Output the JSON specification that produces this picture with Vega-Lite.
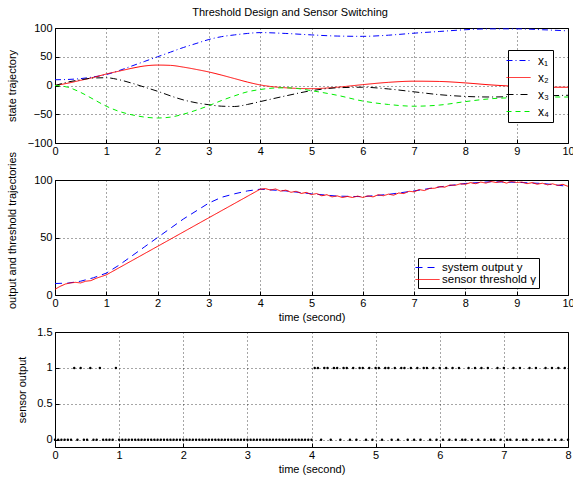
{
"$schema": "https://vega.github.io/schema/vega-lite/v6.json",
"background": "white",
"padding": {"left": 5, "top": 6, "right": 0, "bottom": 0},
"title": {"text": "Threshold Design and Sensor Switching", "fontSize": 11, "fontWeight": "normal", "font": "Liberation Sans", "color": "#000", "anchor": "middle", "offset": 4},
"spacing": 37,
"bounds": "flush",
"config": {
  "font": "Liberation Sans",
  "view": {"stroke": "#000", "strokeWidth": 1},
  "axis": {"domain": false, "grid": true, "gridColor": "#000", "gridDash": [1, 3], "gridOpacity": 0.7, "gridWidth": 1,
           "ticks": true, "tickColor": "#000", "tickSize": -4, "labelPadding": 6, "labelFontSize": 11, "labelColor": "#000",
           "labelFont": "Liberation Sans", "titleFont": "Liberation Sans", "titleFontSize": 11, "titleFontWeight": "normal", "titleColor": "#000",
           "labelFlush": false, "labelOverlap": false, "labelBound": false},
  "axisY": {"labelPadding": 7},
  "legend": {"labelFont": "Liberation Sans", "labelFontSize": 11, "labelColor": "#000"}
},
"datasets": {
  "states": [
    {"t":0,"state":"x₁","v":10},{"t":0.25,"state":"x₁","v":10.5},{"t":0.5,"state":"x₁","v":12},{"t":0.75,"state":"x₁","v":15},{"t":1,"state":"x₁","v":19},{"t":1.25,"state":"x₁","v":26},{"t":1.5,"state":"x₁","v":34},{"t":1.75,"state":"x₁","v":42},{"t":2,"state":"x₁","v":50},{"t":2.25,"state":"x₁","v":58},{"t":2.5,"state":"x₁","v":66},{"t":2.75,"state":"x₁","v":73},{"t":3,"state":"x₁","v":80},{"t":3.25,"state":"x₁","v":85},{"t":3.5,"state":"x₁","v":88},{"t":3.75,"state":"x₁","v":90.5},{"t":4,"state":"x₁","v":92},{"t":4.5,"state":"x₁","v":90.5},{"t":5,"state":"x₁","v":88},{"t":5.5,"state":"x₁","v":86},{"t":6,"state":"x₁","v":85.5},{"t":6.5,"state":"x₁","v":87.5},{"t":7,"state":"x₁","v":91},{"t":7.5,"state":"x₁","v":94},{"t":8,"state":"x₁","v":97},{"t":8.5,"state":"x₁","v":98.5},{"t":9,"state":"x₁","v":98.5},{"t":9.5,"state":"x₁","v":97},{"t":10,"state":"x₁","v":95},
    {"t":0,"state":"x₂","v":0},{"t":0.25,"state":"x₂","v":4},{"t":0.5,"state":"x₂","v":9},{"t":0.75,"state":"x₂","v":14},{"t":1,"state":"x₂","v":20},{"t":1.25,"state":"x₂","v":25},{"t":1.5,"state":"x₂","v":30},{"t":1.75,"state":"x₂","v":34},{"t":2,"state":"x₂","v":35.5},{"t":2.25,"state":"x₂","v":35},{"t":2.5,"state":"x₂","v":32},{"t":2.75,"state":"x₂","v":28},{"t":3,"state":"x₂","v":23.5},{"t":3.25,"state":"x₂","v":18},{"t":3.5,"state":"x₂","v":12},{"t":3.75,"state":"x₂","v":6},{"t":4,"state":"x₂","v":1},{"t":4.5,"state":"x₂","v":-4},{"t":5,"state":"x₂","v":-5.5},{"t":5.5,"state":"x₂","v":-3},{"t":6,"state":"x₂","v":1.5},{"t":6.5,"state":"x₂","v":5.5},{"t":7,"state":"x₂","v":7.5},{"t":7.5,"state":"x₂","v":7},{"t":8,"state":"x₂","v":4.5},{"t":8.5,"state":"x₂","v":1},{"t":9,"state":"x₂","v":-1.5},{"t":9.5,"state":"x₂","v":-3},{"t":10,"state":"x₂","v":-3},
    {"t":0,"state":"x₃","v":0},{"t":0.25,"state":"x₃","v":6},{"t":0.5,"state":"x₃","v":10},{"t":0.75,"state":"x₃","v":13},{"t":1,"state":"x₃","v":13.5},{"t":1.25,"state":"x₃","v":10},{"t":1.5,"state":"x₃","v":4},{"t":1.75,"state":"x₃","v":-3},{"t":2,"state":"x₃","v":-10},{"t":2.25,"state":"x₃","v":-18},{"t":2.5,"state":"x₃","v":-25},{"t":2.75,"state":"x₃","v":-30},{"t":3,"state":"x₃","v":-33.5},{"t":3.25,"state":"x₃","v":-36},{"t":3.5,"state":"x₃","v":-36.5},{"t":3.75,"state":"x₃","v":-33},{"t":4,"state":"x₃","v":-28},{"t":4.5,"state":"x₃","v":-18},{"t":5,"state":"x₃","v":-9},{"t":5.5,"state":"x₃","v":-4},{"t":6,"state":"x₃","v":-3},{"t":6.5,"state":"x₃","v":-6},{"t":7,"state":"x₃","v":-11},{"t":7.5,"state":"x₃","v":-16},{"t":8,"state":"x₃","v":-19},{"t":8.5,"state":"x₃","v":-20},{"t":9,"state":"x₃","v":-19},{"t":9.5,"state":"x₃","v":-18},{"t":10,"state":"x₃","v":-17},
    {"t":0,"state":"x₄","v":0},{"t":0.25,"state":"x₄","v":-3},{"t":0.5,"state":"x₄","v":-12},{"t":0.75,"state":"x₄","v":-24},{"t":1,"state":"x₄","v":-36},{"t":1.25,"state":"x₄","v":-45},{"t":1.5,"state":"x₄","v":-51},{"t":1.75,"state":"x₄","v":-55},{"t":2,"state":"x₄","v":-56.5},{"t":2.25,"state":"x₄","v":-55},{"t":2.5,"state":"x₄","v":-50},{"t":2.75,"state":"x₄","v":-43},{"t":3,"state":"x₄","v":-35},{"t":3.25,"state":"x₄","v":-26},{"t":3.5,"state":"x₄","v":-18},{"t":3.75,"state":"x₄","v":-11},{"t":4,"state":"x₄","v":-7},{"t":4.25,"state":"x₄","v":-4.5},{"t":4.5,"state":"x₄","v":-4},{"t":4.75,"state":"x₄","v":-5.5},{"t":5,"state":"x₄","v":-9},{"t":5.5,"state":"x₄","v":-17},{"t":6,"state":"x₄","v":-27},{"t":6.5,"state":"x₄","v":-33},{"t":7,"state":"x₄","v":-36},{"t":7.5,"state":"x₄","v":-34},{"t":8,"state":"x₄","v":-28},{"t":8.5,"state":"x₄","v":-23},{"t":9,"state":"x₄","v":-21},{"t":9.5,"state":"x₄","v":-20},{"t":10,"state":"x₄","v":-20}
  ],
  "outputs": [
    {"t":0,"signal":"system output y","v":10},{"t":0.25,"signal":"system output y","v":10.3},{"t":0.5,"signal":"system output y","v":12},{"t":0.75,"signal":"system output y","v":15},{"t":1,"signal":"system output y","v":19},{"t":1.25,"signal":"system output y","v":26},{"t":1.5,"signal":"system output y","v":34},{"t":1.75,"signal":"system output y","v":42},{"t":2,"signal":"system output y","v":50},{"t":2.25,"signal":"system output y","v":58},{"t":2.5,"signal":"system output y","v":66},{"t":2.75,"signal":"system output y","v":73},{"t":3,"signal":"system output y","v":80},{"t":3.25,"signal":"system output y","v":85},{"t":3.5,"signal":"system output y","v":88},{"t":3.75,"signal":"system output y","v":90.5},{"t":4,"signal":"system output y","v":92},{"t":4.5,"signal":"system output y","v":90.5},{"t":5,"signal":"system output y","v":88},{"t":5.5,"signal":"system output y","v":86},{"t":6,"signal":"system output y","v":85.5},{"t":6.5,"signal":"system output y","v":87.5},{"t":7,"signal":"system output y","v":90.5},{"t":7.5,"signal":"system output y","v":94},{"t":8,"signal":"system output y","v":97},{"t":8.5,"signal":"system output y","v":98.5},{"t":9,"signal":"system output y","v":98},{"t":9.5,"signal":"system output y","v":97},{"t":10,"signal":"system output y","v":94.5},
    {"t":0,"signal":"sensor threshold γ","v":5},{"t":0.1,"signal":"sensor threshold γ","v":7.5},{"t":0.2,"signal":"sensor threshold γ","v":9.5},{"t":0.3,"signal":"sensor threshold γ","v":10.5},{"t":0.4,"signal":"sensor threshold γ","v":11},{"t":0.5,"signal":"sensor threshold γ","v":10.5},{"t":0.6,"signal":"sensor threshold γ","v":12},{"t":0.7,"signal":"sensor threshold γ","v":12.5},{"t":0.8,"signal":"sensor threshold γ","v":14.5},{"t":0.9,"signal":"sensor threshold γ","v":16},{"t":1,"signal":"sensor threshold γ","v":17.5},{"t":2,"signal":"sensor threshold γ","v":42.3},{"t":3,"signal":"sensor threshold γ","v":67.2},{"t":4,"signal":"sensor threshold γ","v":92},
    {"t":4.1,"signal":"sensor threshold γ","v":92.5},{"t":4.2,"signal":"sensor threshold γ","v":91.3},{"t":4.3,"signal":"sensor threshold γ","v":92.2},{"t":4.4,"signal":"sensor threshold γ","v":90.3},{"t":4.5,"signal":"sensor threshold γ","v":91.2},{"t":4.6,"signal":"sensor threshold γ","v":89.3},{"t":4.7,"signal":"sensor threshold γ","v":90.2},{"t":4.8,"signal":"sensor threshold γ","v":88.3},{"t":4.9,"signal":"sensor threshold γ","v":89.2},{"t":5,"signal":"sensor threshold γ","v":87.3},{"t":5.1,"signal":"sensor threshold γ","v":88.2},{"t":5.2,"signal":"sensor threshold γ","v":86.3},{"t":5.3,"signal":"sensor threshold γ","v":87.2},{"t":5.4,"signal":"sensor threshold γ","v":85.3},{"t":5.5,"signal":"sensor threshold γ","v":86.2},{"t":5.6,"signal":"sensor threshold γ","v":84.8},{"t":5.7,"signal":"sensor threshold γ","v":85.7},{"t":5.8,"signal":"sensor threshold γ","v":84.8},{"t":5.9,"signal":"sensor threshold γ","v":86},{"t":6,"signal":"sensor threshold γ","v":84.8},{"t":6.1,"signal":"sensor threshold γ","v":86.2},{"t":6.2,"signal":"sensor threshold γ","v":85.3},{"t":6.3,"signal":"sensor threshold γ","v":87.2},{"t":6.4,"signal":"sensor threshold γ","v":86.3},{"t":6.5,"signal":"sensor threshold γ","v":87.7},{"t":6.6,"signal":"sensor threshold γ","v":86.8},{"t":6.7,"signal":"sensor threshold γ","v":88.7},{"t":6.8,"signal":"sensor threshold γ","v":88.2},{"t":6.9,"signal":"sensor threshold γ","v":90.2},{"t":7,"signal":"sensor threshold γ","v":89.7},{"t":7.1,"signal":"sensor threshold γ","v":91.7},{"t":7.2,"signal":"sensor threshold γ","v":90.8},{"t":7.3,"signal":"sensor threshold γ","v":92.7},{"t":7.4,"signal":"sensor threshold γ","v":92.8},{"t":7.5,"signal":"sensor threshold γ","v":94.2},{"t":7.6,"signal":"sensor threshold γ","v":93.8},{"t":7.7,"signal":"sensor threshold γ","v":95.7},{"t":7.8,"signal":"sensor threshold γ","v":95.3},{"t":7.9,"signal":"sensor threshold γ","v":96.7},{"t":8,"signal":"sensor threshold γ","v":96.3},{"t":8.1,"signal":"sensor threshold γ","v":97.7},{"t":8.2,"signal":"sensor threshold γ","v":96.8},{"t":8.3,"signal":"sensor threshold γ","v":98.2},{"t":8.4,"signal":"sensor threshold γ","v":97.3},{"t":8.5,"signal":"sensor threshold γ","v":98.7},{"t":8.6,"signal":"sensor threshold γ","v":97.8},{"t":8.7,"signal":"sensor threshold γ","v":98.7},{"t":8.8,"signal":"sensor threshold γ","v":97.3},{"t":8.9,"signal":"sensor threshold γ","v":98.7},{"t":9,"signal":"sensor threshold γ","v":97.8},{"t":9.1,"signal":"sensor threshold γ","v":98.2},{"t":9.2,"signal":"sensor threshold γ","v":96.8},{"t":9.3,"signal":"sensor threshold γ","v":97.7},{"t":9.4,"signal":"sensor threshold γ","v":96.3},{"t":9.5,"signal":"sensor threshold γ","v":97.2},{"t":9.6,"signal":"sensor threshold γ","v":95.8},{"t":9.7,"signal":"sensor threshold γ","v":96.7},{"t":9.8,"signal":"sensor threshold γ","v":95.3},{"t":9.9,"signal":"sensor threshold γ","v":96.2},{"t":10,"signal":"sensor threshold γ","v":94.5}
  ],
  "sensor": [
    {"t":0,"s":0},{"t":0.05,"s":0},{"t":0.1,"s":0},{"t":0.15,"s":0},{"t":0.2,"s":0},{"t":0.25,"s":0},{"t":0.3,"s":1},{"t":0.35,"s":0},{"t":0.4,"s":1},{"t":0.45,"s":0},{"t":0.5,"s":0},{"t":0.55,"s":1},{"t":0.6,"s":0},{"t":0.65,"s":0},{"t":0.7,"s":1},{"t":0.75,"s":0},{"t":0.8,"s":0},{"t":0.85,"s":0},{"t":0.9,"s":0},{"t":0.95,"s":1},
    {"t":1,"s":0},{"t":1.05,"s":0},{"t":1.1,"s":0},{"t":1.15,"s":0},{"t":1.2,"s":0},{"t":1.25,"s":0},{"t":1.3,"s":0},{"t":1.35,"s":0},{"t":1.4,"s":0},{"t":1.45,"s":0},{"t":1.5,"s":0},{"t":1.55,"s":0},{"t":1.6,"s":0},{"t":1.65,"s":0},{"t":1.7,"s":0},{"t":1.75,"s":0},{"t":1.8,"s":0},{"t":1.85,"s":0},{"t":1.9,"s":0},{"t":1.95,"s":0},
    {"t":2,"s":0},{"t":2.05,"s":0},{"t":2.1,"s":0},{"t":2.15,"s":0},{"t":2.2,"s":0},{"t":2.25,"s":0},{"t":2.3,"s":0},{"t":2.35,"s":0},{"t":2.4,"s":0},{"t":2.45,"s":0},{"t":2.5,"s":0},{"t":2.55,"s":0},{"t":2.6,"s":0},{"t":2.65,"s":0},{"t":2.7,"s":0},{"t":2.75,"s":0},{"t":2.8,"s":0},{"t":2.85,"s":0},{"t":2.9,"s":0},{"t":2.95,"s":0},
    {"t":3,"s":0},{"t":3.05,"s":0},{"t":3.1,"s":0},{"t":3.15,"s":0},{"t":3.2,"s":0},{"t":3.25,"s":0},{"t":3.3,"s":0},{"t":3.35,"s":0},{"t":3.4,"s":0},{"t":3.45,"s":0},{"t":3.5,"s":0},{"t":3.55,"s":0},{"t":3.6,"s":0},{"t":3.65,"s":0},{"t":3.7,"s":0},{"t":3.75,"s":0},{"t":3.8,"s":0},{"t":3.85,"s":0},{"t":3.9,"s":0},{"t":3.95,"s":0},{"t":4,"s":0},
    {"t":4.05,"s":1},{"t":4.1,"s":1},{"t":4.15,"s":0},{"t":4.2,"s":1},{"t":4.25,"s":1},{"t":4.3,"s":0},{"t":4.35,"s":1},{"t":4.4,"s":1},{"t":4.45,"s":0},{"t":4.5,"s":1},{"t":4.55,"s":1},{"t":4.6,"s":0},{"t":4.65,"s":1},{"t":4.7,"s":0},{"t":4.75,"s":1},{"t":4.8,"s":1},{"t":4.85,"s":0},{"t":4.9,"s":1},{"t":4.95,"s":0},
    {"t":5,"s":1},{"t":5.05,"s":1},{"t":5.1,"s":0},{"t":5.15,"s":1},{"t":5.2,"s":1},{"t":5.25,"s":0},{"t":5.3,"s":1},{"t":5.35,"s":0},{"t":5.4,"s":1},{"t":5.45,"s":1},{"t":5.5,"s":0},{"t":5.55,"s":1},{"t":5.6,"s":0},{"t":5.65,"s":1},{"t":5.7,"s":0},{"t":5.75,"s":1},{"t":5.8,"s":1},{"t":5.85,"s":0},{"t":5.9,"s":1},{"t":5.95,"s":0},
    {"t":6,"s":1},{"t":6.05,"s":0},{"t":6.1,"s":1},{"t":6.15,"s":0},{"t":6.2,"s":1},{"t":6.25,"s":0},{"t":6.3,"s":1},{"t":6.35,"s":0},{"t":6.4,"s":0},{"t":6.45,"s":1},{"t":6.5,"s":0},{"t":6.55,"s":1},{"t":6.6,"s":0},{"t":6.65,"s":1},{"t":6.7,"s":0},{"t":6.75,"s":1},{"t":6.8,"s":0},{"t":6.85,"s":0},{"t":6.9,"s":1},{"t":6.95,"s":0},
    {"t":7,"s":1},{"t":7.05,"s":0},{"t":7.1,"s":0},{"t":7.15,"s":1},{"t":7.2,"s":0},{"t":7.25,"s":1},{"t":7.3,"s":0},{"t":7.35,"s":0},{"t":7.4,"s":1},{"t":7.45,"s":0},{"t":7.5,"s":1},{"t":7.55,"s":0},{"t":7.6,"s":0},{"t":7.65,"s":1},{"t":7.7,"s":0},{"t":7.75,"s":1},{"t":7.8,"s":0},{"t":7.85,"s":1},{"t":7.9,"s":0},{"t":7.95,"s":1},{"t":8,"s":0}
  ]
},
"resolve": {"scale": {"color": "independent", "strokeDash": "independent"}, "legend": {"color": "independent", "strokeDash": "independent"}},
"vconcat": [
  {
    "width": 513, "height": 115,
    "data": {"name": "states"},
    "mark": {"type": "line", "strokeWidth": 1, "interpolate": "monotone"},
    "encoding": {
      "x": {"field": "t", "type": "quantitative", "scale": {"domain": [0, 10], "nice": false}, "axis": {"values": [0,1,2,3,4,5,6,7,8,9,10], "title": null}},
      "y": {"field": "v", "type": "quantitative", "scale": {"domain": [-100, 100], "nice": false}, "axis": {"values": [-100,-50,0,50,100], "title": "state trajectory", "titleX": -43, "titleBaseline": "middle", "titleAlign": "center"}},
      "color": {"field": "state", "type": "nominal", "scale": {"domain": ["x₁","x₂","x₃","x₄"], "range": ["#0000ff","#ff0000","#000000","#00ee00"]},
                "legend": {"title": null, "orient": "none", "legendX": 453, "legendY": 22, "fillColor": "white", "strokeColor": "black", "padding": 4, "symbolType": "M-2,0H2", "symbolSize": 144, "symbolStrokeWidth": 1, "symbolFillColor": "transparent", "rowPadding": 4, "labelOffset": 13, "labelFontSize": 12}},
      "strokeDash": {"field": "state", "type": "nominal", "scale": {"domain": ["x₁","x₂","x₃","x₄"], "range": [[6,3,1,3],[1,0],[7,3,1,3],[5,4]]},
                "legend": {"title": null, "orient": "none", "legendX": 453, "legendY": 22, "fillColor": "white", "strokeColor": "black", "padding": 4, "symbolType": "M-2,0H2", "symbolSize": 144, "symbolStrokeWidth": 1, "symbolFillColor": "transparent", "rowPadding": 4, "labelOffset": 13, "labelFontSize": 12}}
    }
  },
  {
    "width": 513, "height": 115,
    "data": {"name": "outputs"},
    "mark": {"type": "line", "strokeWidth": 1},
    "encoding": {
      "x": {"field": "t", "type": "quantitative", "scale": {"domain": [0, 10], "nice": false}, "axis": {"values": [0,1,2,3,4,5,6,7,8,9,10], "title": "time (second)", "titlePadding": 3}},
      "y": {"field": "v", "type": "quantitative", "scale": {"domain": [0, 100], "nice": false}, "axis": {"values": [0,50,100], "title": "output and threshold trajectories", "titleX": -43, "titleY": 50, "titleBaseline": "middle", "titleAlign": "center"}},
      "color": {"field": "signal", "type": "nominal", "scale": {"domain": ["system output y","sensor threshold γ"], "range": ["#0000ff","#ff0000"]},
                "legend": {"title": null, "orient": "none", "legendX": 363, "legendY": 78, "fillColor": "white", "strokeColor": "black", "padding": 3, "symbolType": "M-2,0H2", "symbolSize": 144, "symbolStrokeWidth": 1, "symbolFillColor": "transparent", "rowPadding": 0, "labelOffset": 8, "labelFontSize": 11.5}},
      "strokeDash": {"field": "signal", "type": "nominal", "scale": {"domain": ["system output y","sensor threshold γ"], "range": [[7,5],[1,0]]},
                "legend": {"title": null, "orient": "none", "legendX": 363, "legendY": 78, "fillColor": "white", "strokeColor": "black", "padding": 3, "symbolType": "M-2,0H2", "symbolSize": 144, "symbolStrokeWidth": 1, "symbolFillColor": "transparent", "rowPadding": 0, "labelOffset": 8, "labelFontSize": 11.5}},
      "order": {"field": "t", "type": "quantitative"}
    }
  },
  {
    "width": 513, "height": 115,
    "data": {"name": "sensor"},
    "mark": {"type": "point", "filled": true, "color": "#000", "size": 6, "opacity": 1},
    "encoding": {
      "x": {"field": "t", "type": "quantitative", "scale": {"domain": [0, 8], "nice": false}, "axis": {"values": [0,1,2,3,4,5,6,7,8], "title": "time (second)", "titlePadding": 3}},
      "y": {"field": "s", "type": "quantitative", "scale": {"domain": [-0.1, 1.5], "nice": false, "zero": false}, "axis": {"values": [0,0.5,1,1.5], "format": "~g", "title": "sensor output", "titleX": -33, "titleBaseline": "middle", "titleAlign": "center"}}
    }
  }
]
}
